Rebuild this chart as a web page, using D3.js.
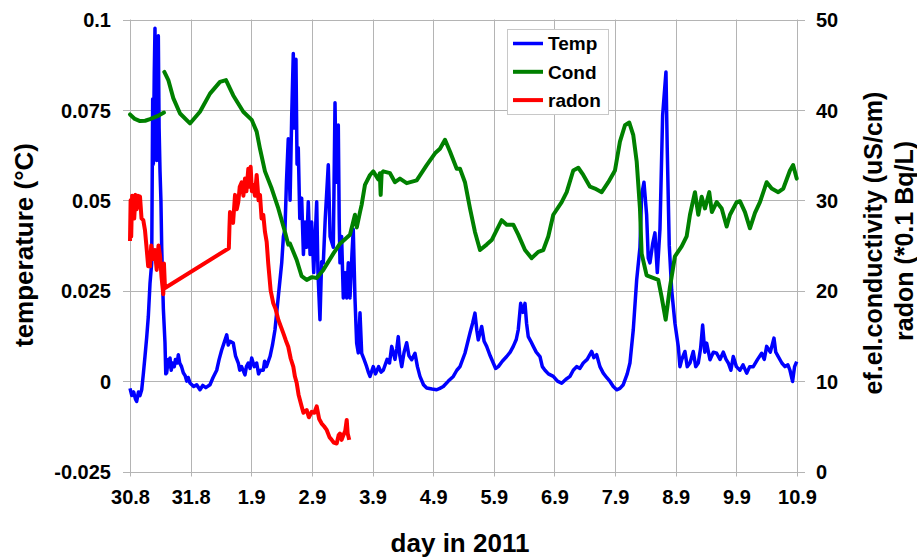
<!DOCTYPE html>
<html>
<head>
<meta charset="utf-8">
<script src="https://cdn.jsdelivr.net/npm/d3@7"></script>
<style>
  body { margin: 0; background: #fff; }
  text { font-family: "Liberation Sans", Arial, sans-serif; font-weight: bold; }
</style>
</head>
<body>
<div id="chart"></div>
<script>
// x values are days counted from 30.8. 00:00
var dayLabels = ["30.8", "31.8", "1.9", "2.9", "3.9", "4.9", "5.9", "6.9", "7.9", "8.9", "9.9", "10.9"];
var tempTicks = [-0.025, 0, 0.025, 0.05, 0.075, 0.1];
var rightTicks = [0, 10, 20, 30, 40, 50];

// Temp (°C), left axis
var tempData = [
  [0, -0.002], [0.03, -0.004], [0.06, -0.003], [0.09, -0.005], [0.11, -0.0056], [0.14, -0.003],
  [0.165, -0.004], [0.193, -0.0024], [0.22, 0.002], [0.247, 0.0068], [0.275, 0.012], [0.302, 0.0178],
  [0.33, 0.027], [0.358, 0.0327], [0.374, 0.078], [0.385, 0.06], [0.40, 0.085], [0.412, 0.0976],
  [0.425, 0.07], [0.44, 0.061], [0.45, 0.09], [0.467, 0.0955], [0.48, 0.07], [0.495, 0.058],
  [0.51, 0.05], [0.523, 0.037], [0.55, 0.02], [0.577, 0.0106], [0.59, 0.002], [0.605, 0.0023],
  [0.63, 0.006], [0.645, 0.004], [0.66, 0.0064], [0.68, 0.003], [0.70, 0.005], [0.73, 0.004],
  [0.75, 0.006], [0.78, 0.005], [0.797, 0.0073], [0.82, 0.005], [0.85, 0.004], [0.879, 0.0023],
  [0.91, 0.0015], [0.935, 0.0], [0.96, 0.001], [0.989, -0.0005], [1.02, -0.001], [1.05, -0.0015],
  [1.1, -0.001], [1.154, -0.0024], [1.2, -0.0012], [1.25, -0.0018], [1.319, -0.001], [1.37, 0.001],
  [1.43, 0.003], [1.47, 0.006], [1.512, 0.0086], [1.55, 0.0105], [1.595, 0.0128], [1.62, 0.01],
  [1.65, 0.011], [1.703, 0.0105], [1.74, 0.007], [1.786, 0.005], [1.81, 0.003], [1.84, 0.004],
  [1.896, 0.0017], [1.92, 0.004], [1.95, 0.005], [1.98, 0.0035], [2.007, 0.0064], [2.05, 0.004],
  [2.089, 0.005], [2.12, 0.002], [2.15, 0.003], [2.198, 0.003], [2.22, 0.0055], [2.25, 0.004],
  [2.309, 0.0068], [2.35, 0.01], [2.391, 0.0142], [2.446, 0.0234], [2.502, 0.0327], [2.53, 0.04],
  [2.556, 0.042], [2.58, 0.055], [2.61, 0.067], [2.64, 0.05], [2.667, 0.0735], [2.693, 0.0906],
  [2.71, 0.07], [2.737, 0.089], [2.755, 0.06], [2.775, 0.0645], [2.80, 0.045], [2.831, 0.0506],
  [2.86, 0.035], [2.886, 0.044], [2.914, 0.037], [2.94, 0.0496], [2.97, 0.035], [2.996, 0.044],
  [3.03, 0.03], [3.079, 0.0496], [3.10, 0.03], [3.133, 0.017], [3.16, 0.033], [3.188, 0.0327],
  [3.22, 0.045], [3.27, 0.0598], [3.30, 0.04], [3.353, 0.037], [3.381, 0.077], [3.40, 0.055],
  [3.435, 0.0708], [3.45, 0.045], [3.463, 0.0327], [3.49, 0.04], [3.518, 0.023], [3.55, 0.03],
  [3.574, 0.023], [3.60, 0.0327], [3.628, 0.023], [3.66, 0.035], [3.682, 0.042], [3.71, 0.023],
  [3.738, 0.0105], [3.765, 0.0078], [3.793, 0.0189], [3.821, 0.0077], [3.86, 0.006], [3.903, 0.004],
  [3.93, 0.0025], [3.958, 0.0013], [4.012, 0.004], [4.05, 0.002], [4.10, 0.004], [4.14, 0.0025],
  [4.177, 0.003], [4.24, 0.006], [4.28, 0.005], [4.316, 0.0096], [4.37, 0.006], [4.40, 0.009],
  [4.424, 0.0123], [4.45, 0.007], [4.481, 0.004], [4.52, 0.008], [4.563, 0.0106], [4.6, 0.007],
  [4.646, 0.0059], [4.70, 0.0077], [4.74, 0.004], [4.782, 0.0013], [4.84, -0.001], [4.893, -0.0019],
  [4.98, -0.0022], [5.058, -0.0024], [5.11, -0.002], [5.167, -0.0015], [5.25, 0.0], [5.332, 0.0013],
  [5.39, 0.003], [5.442, 0.004], [5.524, 0.0077], [5.607, 0.0133], [5.65, 0.016], [5.689, 0.0188],
  [5.72, 0.014], [5.744, 0.0114], [5.8, 0.0151], [5.84, 0.011], [5.882, 0.0096], [5.94, 0.007],
  [5.991, 0.005], [6.03, 0.0035], [6.074, 0.004], [6.14, 0.0055], [6.212, 0.0068], [6.27, 0.008],
  [6.321, 0.0096], [6.37, 0.0115], [6.403, 0.0142], [6.443, 0.0215], [6.48, 0.019], [6.514, 0.0215],
  [6.54, 0.016], [6.568, 0.0123], [6.61, 0.011], [6.651, 0.0096], [6.7, 0.008], [6.761, 0.0068],
  [6.8, 0.004], [6.844, 0.003], [6.9, 0.002], [6.981, 0.0013], [7.05, 0.0], [7.119, -0.0006],
  [7.19, 0.0005], [7.256, 0.0013], [7.31, 0.003], [7.366, 0.004], [7.42, 0.0035], [7.475, 0.005],
  [7.54, 0.006], [7.614, 0.0082], [7.65, 0.0065], [7.696, 0.0073], [7.75, 0.004], [7.805, 0.0022],
  [7.86, 0.001], [7.916, -0.0001], [7.97, -0.0015], [8.026, -0.0024], [8.08, -0.002], [8.135, -0.001],
  [8.2, 0.002], [8.245, 0.005], [8.30, 0.0142], [8.356, 0.028], [8.41, 0.037], [8.438, 0.0515],
  [8.476, 0.055], [8.52, 0.046], [8.547, 0.034], [8.575, 0.0327], [8.62, 0.038], [8.657, 0.041],
  [8.696, 0.03], [8.74, 0.042], [8.784, 0.0735], [8.839, 0.0855], [8.86, 0.0644], [8.893, 0.0376],
  [8.933, 0.0252], [8.987, 0.016], [9.042, 0.0096], [9.07, 0.004], [9.098, 0.0059], [9.152, 0.0082],
  [9.19, 0.004], [9.235, 0.005], [9.289, 0.0082], [9.33, 0.004], [9.372, 0.005], [9.41, 0.009],
  [9.444, 0.0155], [9.48, 0.008], [9.51, 0.0105], [9.565, 0.0059], [9.62, 0.008], [9.675, 0.0077],
  [9.73, 0.006], [9.784, 0.008], [9.83, 0.006], [9.867, 0.005], [9.91, 0.003], [9.949, 0.0068],
  [10.0, 0.004], [10.059, 0.003], [10.11, 0.0045], [10.17, 0.0022], [10.22, 0.004], [10.279, 0.004],
  [10.35, 0.006], [10.417, 0.0077], [10.46, 0.006], [10.5, 0.0096], [10.56, 0.008], [10.62, 0.0119],
  [10.65, 0.008], [10.691, 0.0068], [10.75, 0.005], [10.802, 0.004], [10.85, 0.0045], [10.884, 0.003],
  [10.927, -0.0001], [10.96, 0.004], [10.995, 0.0054]
];

// Cond (uS/cm), right axis, two pieces
var condData1 = [
  [0, 39.5], [0.08, 39.0], [0.165, 38.76], [0.25, 38.8], [0.33, 38.98], [0.45, 39.3], [0.561, 39.7]
];
var condData2 = [
  [0.566, 44.2], [0.632, 43.3], [0.714, 41.3], [0.825, 39.6], [0.989, 38.5], [1.154, 39.8],
  [1.319, 41.8], [1.484, 43.1], [1.583, 43.3], [1.703, 41.6], [1.868, 39.8], [2.007, 38.9],
  [2.089, 37.6], [2.144, 35.7], [2.226, 33.2], [2.337, 31.3], [2.446, 29.1], [2.556, 26.5],
  [2.61, 25.1], [2.639, 25.2], [2.749, 23.4], [2.831, 21.6], [2.914, 21.2], [3.0, 21.5],
  [3.079, 21.4], [3.188, 22.3], [3.353, 24.1], [3.463, 25.2], [3.628, 26.2], [3.71, 28.4],
  [3.74, 27.0], [3.793, 28.7], [3.82, 29.5], [3.875, 31.7], [3.958, 32.8], [4.012, 33.2],
  [4.095, 32.3], [4.12, 33.0], [4.134, 30.6], [4.15, 33.0], [4.177, 33.2], [4.288, 33.0],
  [4.37, 32.0], [4.452, 32.4], [4.563, 31.9], [4.728, 32.2], [4.893, 33.9], [5.03, 35.2],
  [5.112, 35.7], [5.195, 36.7], [5.277, 35.4], [5.388, 33.5], [5.442, 33.5], [5.524, 32.0],
  [5.607, 29.1], [5.689, 26.5], [5.772, 24.5], [5.882, 25.1], [5.965, 25.6], [6.047, 26.7],
  [6.13, 27.8], [6.212, 27.3], [6.321, 27.3], [6.403, 26.2], [6.514, 24.5], [6.624, 23.6],
  [6.733, 24.3], [6.816, 24.5], [6.898, 26.0], [6.981, 28.4], [7.119, 29.8], [7.202, 30.9],
  [7.31, 33.3], [7.393, 33.6], [7.475, 32.8], [7.586, 31.5], [7.668, 31.3], [7.779, 30.9],
  [7.888, 32.0], [7.998, 33.3], [8.08, 36.5], [8.163, 38.3], [8.234, 38.6], [8.3, 37.2],
  [8.356, 34.3], [8.41, 29.1], [8.438, 24.1], [8.52, 21.7], [8.712, 21.2], [8.768, 19.3],
  [8.834, 16.8], [8.905, 20.4], [8.987, 23.8], [9.098, 24.9], [9.18, 26.0], [9.235, 28.4],
  [9.317, 30.9], [9.372, 28.4], [9.428, 30.4], [9.482, 29.1], [9.553, 30.9], [9.596, 28.7],
  [9.675, 29.8], [9.758, 29.1], [9.84, 27.1], [9.895, 28.4], [10.005, 29.8], [10.059, 29.9],
  [10.142, 28.7], [10.224, 26.9], [10.307, 28.6], [10.389, 29.8], [10.5, 32.0], [10.582, 31.3],
  [10.691, 30.9], [10.774, 31.3], [10.884, 33.3], [10.936, 33.9], [10.995, 32.4]
];

// radon (*0.1 Bq/L), right axis
var radonData = [
  [0, 25.5], [0.01, 30.0], [0.02, 26.0], [0.035, 30.5], [0.054, 30.2], [0.07, 28.0], [0.09, 30.6],
  [0.11, 29.0], [0.13, 30.5], [0.165, 30.4], [0.19, 28.0], [0.219, 27.8], [0.247, 26.7],
  [0.27, 25.0], [0.3, 22.7], [0.33, 22.7], [0.35, 25.0], [0.384, 23.5], [0.41, 24.5], [0.44, 22.3],
  [0.47, 25.0], [0.495, 23.9], [0.52, 21.5], [0.549, 19.6], [0.56, 23.0], [0.577, 20.3],
  [1.63, 24.7], [1.64, 27.0], [1.649, 28.7], [1.7, 27.5], [1.732, 30.6], [1.76, 29.0],
  [1.786, 29.8], [1.81, 31.5], [1.842, 32.0], [1.87, 30.5], [1.896, 32.4], [1.92, 31.0],
  [1.951, 33.5], [1.97, 31.5], [1.99, 33.7], [2.01, 31.0], [2.033, 31.7], [2.06, 30.5],
  [2.089, 32.8], [2.12, 30.0], [2.144, 30.6], [2.17, 28.0], [2.198, 28.4], [2.226, 26.5],
  [2.254, 25.4], [2.28, 23.0], [2.32, 20.0], [2.363, 18.6], [2.4, 18.0], [2.446, 16.8],
  [2.49, 16.0], [2.528, 15.3], [2.57, 14.5], [2.61, 13.8], [2.65, 12.5], [2.693, 11.6],
  [2.72, 10.5], [2.749, 9.8], [2.78, 8.5], [2.831, 7.2], [2.86, 6.5], [2.914, 6.8], [2.95, 6.0],
  [2.996, 6.6], [3.04, 6.5], [3.079, 7.2], [3.12, 5.8], [3.161, 5.3], [3.2, 5.0], [3.244, 4.6],
  [3.29, 3.8], [3.326, 3.5], [3.36, 3.2], [3.409, 3.1], [3.44, 4.0], [3.463, 4.2], [3.49, 3.5],
  [3.518, 4.0], [3.55, 4.5], [3.574, 5.7], [3.59, 4.2], [3.616, 3.5]
];

var series = [
  { name: "Temp", color: "#0000ff", width: 3.5 },
  { name: "Cond", color: "#008000", width: 4 },
  { name: "radon", color: "#ff0000", width: 4 }
];

var width = 917, height = 557;
var plot = { left: 130, right: 797, top: 19.5, bottom: 471.5 };

var svg = d3.select("#chart").append("svg")
    .attr("width", width)
    .attr("height", height);

var xScale = d3.scaleLinear().domain([0, dayLabels.length - 1]).range([plot.left, plot.right]);
var yLeft = d3.scaleLinear().domain([-0.025, 0.1]).range([plot.bottom, plot.top]);
var yRight = d3.scaleLinear().domain([0, 50]).range([plot.bottom, plot.top]);

var gridColor = "#b4b4b4";

// grid
svg.append("g")
    .selectAll("line")
    .data(tempTicks)
    .enter().append("line")
    .attr("x1", plot.left - 7)
    .attr("x2", plot.right + 8)
    .attr("y1", function(d) { return Math.round(yLeft(d)) + 0.5; })
    .attr("y2", function(d) { return Math.round(yLeft(d)) + 0.5; })
    .attr("stroke", gridColor);

svg.append("g")
    .selectAll("line")
    .data(dayLabels)
    .enter().append("line")
    .attr("x1", function(d, i) { return Math.round(xScale(i)) + 0.5; })
    .attr("x2", function(d, i) { return Math.round(xScale(i)) + 0.5; })
    .attr("y1", plot.top)
    .attr("y2", plot.bottom + 5)
    .attr("stroke", gridColor);

// axes (labels only, lines drawn above)
var leftAxis = svg.append("g")
    .attr("transform", "translate(" + (plot.left - 19) + ",0)")
    .call(d3.axisLeft(yLeft).tickValues(tempTicks).tickSize(0)
        .tickFormat(function(d) { return String(+d.toFixed(3)); }));

var rightAxis = svg.append("g")
    .attr("transform", "translate(" + (plot.right + 19) + ",0)")
    .call(d3.axisRight(yRight).tickValues(rightTicks).tickSize(0));

var bottomAxis = svg.append("g")
    .attr("transform", "translate(0," + (plot.bottom + 18) + ")")
    .call(d3.axisBottom(xScale).tickValues(d3.range(dayLabels.length)).tickSize(0)
        .tickFormat(function(d, i) { return dayLabels[i]; }));

[leftAxis, rightAxis, bottomAxis].forEach(function(a) {
    a.select(".domain").remove();
    a.selectAll("text")
        .attr("font-family", "Liberation Sans, Arial, sans-serif")
        .attr("font-weight", "bold")
        .attr("font-size", 20)
        .attr("fill", "#000");
});
leftAxis.selectAll("text").attr("x", 0).attr("dy", "0.36em");
rightAxis.selectAll("text").attr("x", 0).attr("dy", "0.36em");
bottomAxis.selectAll("text").attr("y", 0).attr("dy", "0.71em");

// lines
var lineL = d3.line()
    .x(function(d) { return xScale(d[0]); })
    .y(function(d) { return yLeft(d[1]); });
var lineR = d3.line()
    .x(function(d) { return xScale(d[0]); })
    .y(function(d) { return yRight(d[1]); });

svg.append("path")
    .datum(tempData)
    .attr("d", lineL)
    .attr("fill", "none")
    .attr("stroke", series[0].color)
    .attr("stroke-width", series[0].width)
    .attr("stroke-linejoin", "round");

[condData1, condData2].forEach(function(seg) {
    svg.append("path")
        .datum(seg)
        .attr("d", lineR)
        .attr("fill", "none")
        .attr("stroke", series[1].color)
        .attr("stroke-width", series[1].width)
        .attr("stroke-linejoin", "round")
        .attr("stroke-linecap", "round");
});

svg.append("path")
    .datum(radonData)
    .attr("d", lineR)
    .attr("fill", "none")
    .attr("stroke", series[2].color)
    .attr("stroke-width", series[2].width)
    .attr("stroke-linejoin", "round");

// axis titles
svg.append("text")
    .attr("transform", "translate(33,245) rotate(-90)")
    .attr("text-anchor", "middle")
    .attr("font-size", 26)
    .text("temperature (°C)");

svg.append("text")
    .attr("transform", "translate(882,243) rotate(-90)")
    .attr("text-anchor", "middle")
    .attr("font-size", 25)
    .text("ef.el.conductivity (uS/cm)");

svg.append("text")
    .attr("transform", "translate(913,241) rotate(-90)")
    .attr("text-anchor", "middle")
    .attr("font-size", 25)
    .text("radon (*0.1 Bq/L)");

svg.append("text")
    .attr("x", 460)
    .attr("y", 552)
    .attr("text-anchor", "middle")
    .attr("font-size", 26)
    .text("day in 2011");

// legend
var legend = svg.append("g").attr("transform", "translate(507,29)");
legend.append("rect")
    .attr("x", 0.5).attr("y", 0.5)
    .attr("width", 101).attr("height", 85)
    .attr("fill", "#fff")
    .attr("stroke", "#c8c8c8");

var lgItem = legend.selectAll("g.lgd")
    .data(series)
    .enter().append("g")
    .attr("class", "lgd")
    .attr("transform", function(d, i) { return "translate(0," + (14.5 + i * 28.3) + ")"; });

lgItem.append("line")
    .attr("x1", 6).attr("x2", 36)
    .attr("stroke", function(d) { return d.color; })
    .attr("stroke-width", function(d) { return d.width; });

lgItem.append("text")
    .attr("x", 41)
    .attr("dy", "0.36em")
    .attr("font-size", 19)
    .text(function(d) { return d.name; });
</script>
</body>
</html>
